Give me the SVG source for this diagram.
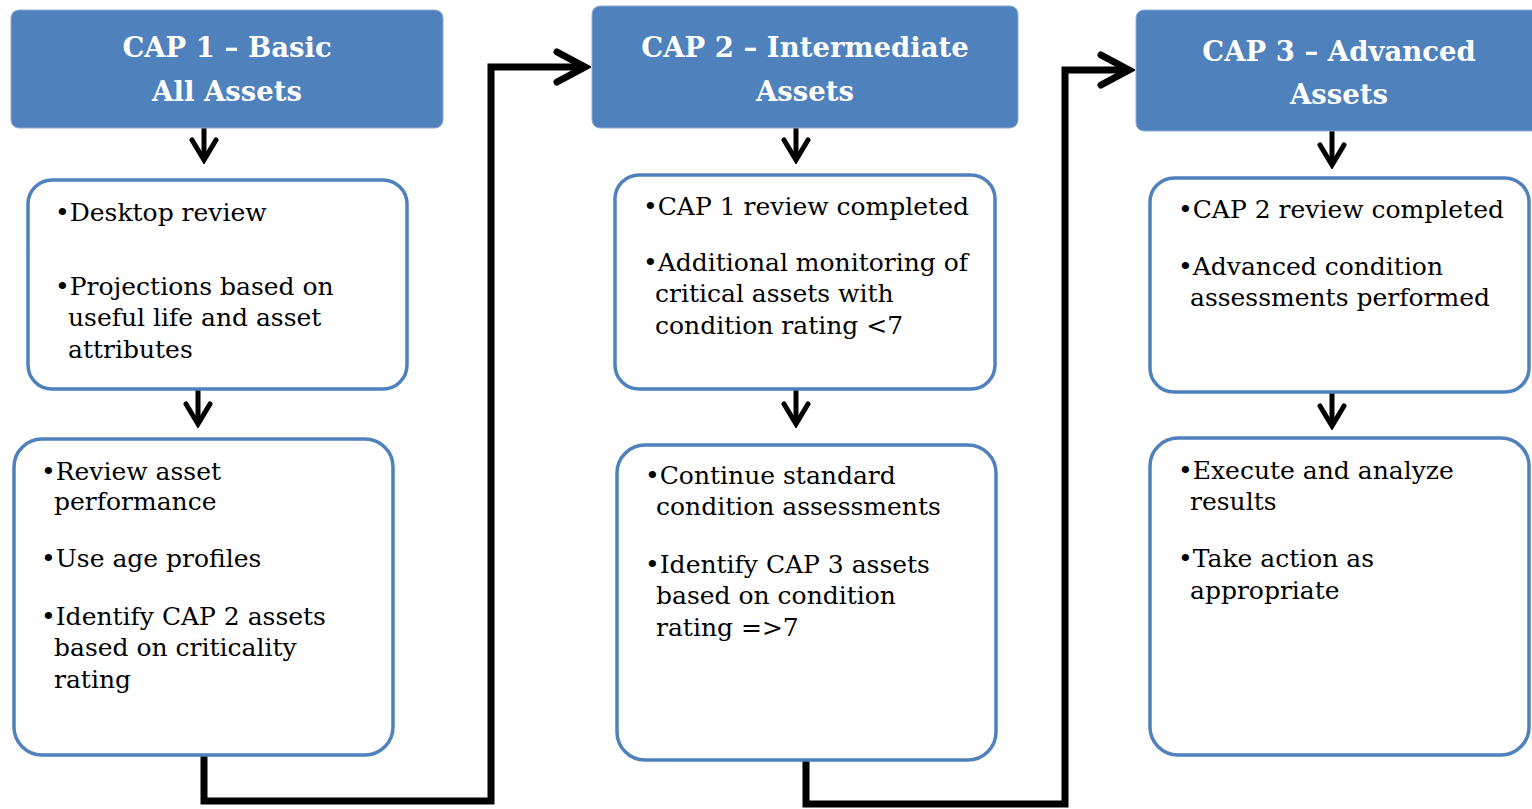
<svg xmlns="http://www.w3.org/2000/svg" width="1532" height="809" viewBox="0 0 1532 809">
<style>
.hdr{fill:#4f81bd;stroke:#8eaad6;stroke-width:1}
.box{fill:#fff;stroke:#4f81bd;stroke-width:3.5}
.ht{font-family:"DejaVu Serif","Liberation Serif",serif;font-weight:bold;font-size:27.5px;fill:#fff;text-anchor:middle}
.bt{font-family:"DejaVu Serif","Liberation Serif",serif;font-size:25px;fill:#000}
.sm{fill:none;stroke:#000;stroke-width:5}
.lg{fill:none;stroke:#000;stroke-width:7;stroke-linejoin:miter}
</style>
<defs>
<marker id="ahS" markerUnits="userSpaceOnUse" viewBox="-26 -16 30 32" refX="0" refY="0" markerWidth="30" markerHeight="32" orient="auto">
<path d="M-20,-12 L0,0 L-20,12" fill="none" stroke="#000" stroke-width="5" stroke-linecap="round"/>
</marker>
<marker id="ahL" markerUnits="userSpaceOnUse" viewBox="-36 -22 42 44" refX="0" refY="0" markerWidth="42" markerHeight="44" orient="auto">
<path d="M-28,-15 L0,0 L-28,15" fill="none" stroke="#000" stroke-width="7" stroke-linecap="round"/>
</marker>
</defs>
<g id="connectors">
<path class="sm" d="M204,127 V160" marker-end="url(#ahS)"/>
<path class="sm" d="M198,390 V424" marker-end="url(#ahS)"/>
<path class="sm" d="M796,128 V160" marker-end="url(#ahS)"/>
<path class="sm" d="M796,390 V424" marker-end="url(#ahS)"/>
<path class="sm" d="M1332,131 V165" marker-end="url(#ahS)"/>
<path class="sm" d="M1332,392 V426" marker-end="url(#ahS)"/>
<path class="lg" d="M204,755 V801 H491 V67 H585" marker-end="url(#ahL)"/>
<path class="lg" d="M806,760 V804 H1065 V70 H1129" marker-end="url(#ahL)"/>
</g>
<g id="cap1-header">
<rect class="hdr" x="11" y="10" width="432" height="118" rx="8"/>
<text class="ht" x="227" y="57">CAP 1 – Basic</text>
<text class="ht" x="227" y="101">All Assets</text>
</g>
<g id="cap2-header">
<rect class="hdr" x="592" y="6" width="426" height="122" rx="8"/>
<text class="ht" x="805" y="57">CAP 2 – Intermediate</text>
<text class="ht" x="805" y="101">Assets</text>
</g>
<g id="cap3-header">
<rect class="hdr" x="1136" y="10" width="410" height="121" rx="8"/>
<text class="ht" x="1339" y="61">CAP 3 – Advanced</text>
<text class="ht" x="1339" y="104">Assets</text>
</g>
<g id="cap1-box1">
<rect class="box" x="28" y="180" width="379" height="209" rx="24"/>
<text class="bt" x="55" y="221">•Desktop review</text>
<text class="bt" x="55" y="295">•Projections based on</text>
<text class="bt" x="68" y="326">useful life and asset</text>
<text class="bt" x="68" y="358">attributes</text>
</g>
<g id="cap1-box2">
<rect class="box" x="14" y="439" width="379" height="316" rx="28"/>
<text class="bt" x="41" y="480">•Review asset</text>
<text class="bt" x="54" y="510">performance</text>
<text class="bt" x="41" y="567">•Use age profiles</text>
<text class="bt" x="41" y="625">•Identify CAP 2 assets</text>
<text class="bt" x="54" y="656">based on criticality</text>
<text class="bt" x="54" y="688">rating</text>
</g>
<g id="cap2-box1">
<rect class="box" x="615" y="175" width="380" height="214" rx="24"/>
<text class="bt" x="643" y="215">•CAP 1 review completed</text>
<text class="bt" x="643" y="271">•Additional monitoring of</text>
<text class="bt" x="655" y="302">critical assets with</text>
<text class="bt" x="655" y="334">condition rating &lt;7</text>
</g>
<g id="cap2-box2">
<rect class="box" x="617" y="445" width="379" height="315" rx="28"/>
<text class="bt" x="645" y="484">•Continue standard</text>
<text class="bt" x="656" y="515">condition assessments</text>
<text class="bt" x="645" y="573">•Identify CAP 3 assets</text>
<text class="bt" x="656" y="604">based on condition</text>
<text class="bt" x="656" y="636">rating =&gt;7</text>
</g>
<g id="cap3-box1">
<rect class="box" x="1150" y="178" width="379" height="214" rx="24"/>
<text class="bt" x="1178" y="218">•CAP 2 review completed</text>
<text class="bt" x="1178" y="275">•Advanced condition</text>
<text class="bt" x="1190" y="306">assessments performed</text>
</g>
<g id="cap3-box2">
<rect class="box" x="1150" y="438" width="379" height="317" rx="28"/>
<text class="bt" x="1178" y="479">•Execute and analyze</text>
<text class="bt" x="1190" y="510">results</text>
<text class="bt" x="1178" y="567">•Take action as</text>
<text class="bt" x="1190" y="599">appropriate</text>
</g>
</svg>
